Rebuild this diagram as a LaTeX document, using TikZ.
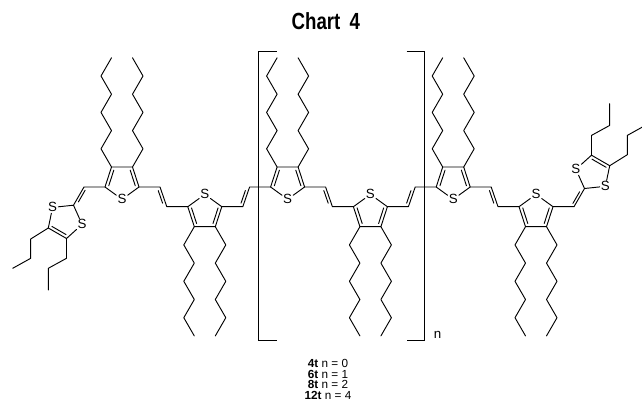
\documentclass[tikz,border=0pt]{standalone}
\usepackage{fontspec}
\setmainfont{Liberation Sans}
\newfontfamily\titlefont[FakeStretch=0.8]{Liberation Sans}
\usetikzlibrary{calc}

\tikzset{
  bondline/.style={line width=0.7pt, line cap=round, line join=round},
  satom/.style={inner sep=0.7pt, font=\fontsize{10}{12}\selectfont},
  brk/.style={line width=0.8pt},
  lbl/.style={anchor=base, inner sep=0pt, font=\fontsize{8.8}{9}\selectfont},
}

% thiophene, S down, chains up: name, mx, y of top edge
\newcommand{\ThioUp}[3]{%
  \coordinate (#1c3) at ({#2-10.5},#3);
  \coordinate (#1c4) at ({#2+10.5},#3);
  \coordinate (#1c2) at ({#2-17},{#3+20});
  \coordinate (#1c5) at ({#2+17},{#3+20});
  \coordinate (#1m) at (#2,{#3+14.45});
  \node[satom] (#1s) at (#2,{#3+32.3}) {S};
  \draw[bondline] (#1c2) -- (#1c3) -- (#1c4) -- (#1c5) -- (#1s) -- (#1c2);
  \draw[bondline] ($(#1m)!0.78!(#1c2)$) -- ($(#1m)!0.78!(#1c3)$);
  \draw[bondline] ($(#1m)!0.78!(#1c4)$) -- ($(#1m)!0.78!(#1c5)$);
  \draw[bondline] (#1c3) -- ++(-10.5,-18.2) -- ++(10.5,-18.2) -- ++(-10.5,-18.2)
     -- ++(10.5,-18.2) -- ++(-10.5,-18.2) -- ++(10.5,-18.2);
  \draw[bondline] (#1c4) -- ++(10.5,-18.2) -- ++(-10.5,-18.2) -- ++(10.5,-18.2)
     -- ++(-10.5,-18.2) -- ++(10.5,-18.2) -- ++(-10.5,-18.2);
}
% thiophene, S up, chains down: name, mx, y of bottom edge
\newcommand{\ThioDown}[3]{%
  \coordinate (#1c3) at ({#2-10.5},#3);
  \coordinate (#1c4) at ({#2+10.5},#3);
  \coordinate (#1c2) at ({#2-17},{#3-20});
  \coordinate (#1c5) at ({#2+17},{#3-20});
  \coordinate (#1m) at (#2,{#3-14.45});
  \node[satom] (#1s) at (#2,{#3-32.3}) {S};
  \draw[bondline] (#1c2) -- (#1c3) -- (#1c4) -- (#1c5) -- (#1s) -- (#1c2);
  \draw[bondline] ($(#1m)!0.78!(#1c2)$) -- ($(#1m)!0.78!(#1c3)$);
  \draw[bondline] ($(#1m)!0.78!(#1c4)$) -- ($(#1m)!0.78!(#1c5)$);
  \draw[bondline] (#1c3) -- ++(-10.5,18.2) -- ++(10.5,18.2) -- ++(-10.5,18.2)
     -- ++(10.5,18.2) -- ++(-10.5,18.2) -- ++(10.5,18.2);
  \draw[bondline] (#1c4) -- ++(10.5,18.2) -- ++(-10.5,18.2) -- ++(10.5,18.2)
     -- ++(-10.5,18.2) -- ++(10.5,18.2) -- ++(-10.5,18.2);
}
% vinylene between two thiophenes: from, to, name
\newcommand{\Vinyl}[3]{%
  \coordinate (#3a) at ($(#1c5)+(21,0)$);
  \coordinate (#3b) at ($(#2c2)+(-21,0)$);
  \draw[bondline] (#1c5) -- (#3a) -- (#3b) -- (#2c2);
  \draw[bondline] ($(#3a)!0.18!(#3b)+(-3,0)$) -- ($(#3a)!0.82!(#3b)+(-3,0)$);
}

\begin{document}
\begin{tikzpicture}[x=0.75pt,y=-0.75pt]
\useasboundingbox (0,0) rectangle (642,408);

\node[anchor=base, inner sep=0pt, font=\titlefont\bfseries\fontsize{17.5}{20}\selectfont] (title) at (325.8,29.3) {Chart \,4};

\ThioUp{t1}{122}{167}
\ThioDown{t2}{204.8}{226.7}
\ThioUp{t3}{287.6}{167}
\ThioDown{t4}{370.4}{226.7}
\ThioUp{t5}{453.2}{167}
\ThioDown{t6}{536}{226.7}

\Vinyl{t1}{t2}{v1}
\Vinyl{t2}{t3}{v2}
\Vinyl{t3}{t4}{v3}
\Vinyl{t4}{t5}{v4}
\Vinyl{t5}{t6}{v5}

% left 1,3-dithiole
\coordinate (lexo) at (84,187);
\coordinate (lc2) at (73.5,205.2);
\node[satom] (ls1) at (52.6,207.4) {S};
\coordinate (lc4) at (48.3,228);
\coordinate (lc5) at (66.5,238.5);
\node[satom] (ls3) at (82.1,224.4) {S};
\coordinate (lm) at (64.6,220.7);
\draw[bondline] (t1c2) -- (lexo) -- (lc2) -- (ls1) -- (lc4) -- (lc5) -- (ls3) -- (lc2);
\draw[bondline] ($(lexo)!0.18!(lc2)+(3,0)$) -- ($(lexo)!0.82!(lc2)+(3,0)$);
\draw[bondline] ($(lm)!0.78!(lc4)$) -- ($(lm)!0.78!(lc5)$);
\draw[bondline] (lc4) -- ++(-17.6,11) -- ++(0,19.3) -- ++(-18,10);
\draw[bondline] (lc5) -- ++(0,19.8) -- ++(-18.2,10) -- ++(0,21.7);

% right 1,3-dithiole
\coordinate (rexo) at (574,206.7);
\coordinate (rc2) at (584.5,188.5);
\node[satom] (rs1) at (605.4,186.3) {S};
\coordinate (rc4) at (609.7,165.7);
\coordinate (rc5) at (591.5,155.2);
\node[satom] (rs3) at (575.9,169.3) {S};
\coordinate (rm) at (593.4,173);
\draw[bondline] (t6c5) -- (rexo) -- (rc2) -- (rs1) -- (rc4) -- (rc5) -- (rs3) -- (rc2);
\draw[bondline] ($(rexo)!0.18!(rc2)+(-3,0)$) -- ($(rexo)!0.82!(rc2)+(-3,0)$);
\draw[bondline] ($(rm)!0.78!(rc4)$) -- ($(rm)!0.78!(rc5)$);
\draw[bondline] (rc4) -- ++(17.6,-11) -- ++(0,-19.3) -- ++(18,-10);
\draw[bondline] (rc5) -- ++(0,-19.8) -- ++(18.2,-10) -- ++(0,-21.7);

% brackets
\coordinate (bl1) at (276.5,51.7);
\coordinate (bl2) at (258.3,51.7);
\coordinate (bl3) at (258.3,340.5);
\coordinate (bl4) at (276.5,340.5);
\coordinate (br1) at (406.5,51.7);
\coordinate (br2) at (424.5,51.7);
\coordinate (br3) at (424.5,340.5);
\coordinate (br4) at (406.5,340.5);
\draw[brk] (bl1) -- (bl2) -- (bl3) -- (bl4);
\draw[brk] (br1) -- (br2) -- (br3) -- (br4);
\node[inner sep=0pt, font=\fontsize{10}{12}\selectfont] (nsub) at (437.5,335) {n};

% labels
\node[lbl] (lab0) at (328,367.3) {\textbf{4t} n = 0};
\node[lbl] (lab1) at (328,378) {\textbf{6t} n = 1};
\node[lbl] (lab2) at (328,388.7) {\textbf{8t} n = 2};
\node[lbl] (lab3) at (328,399.4) {\textbf{12t} n = 4};
\end{tikzpicture}
\end{document}
